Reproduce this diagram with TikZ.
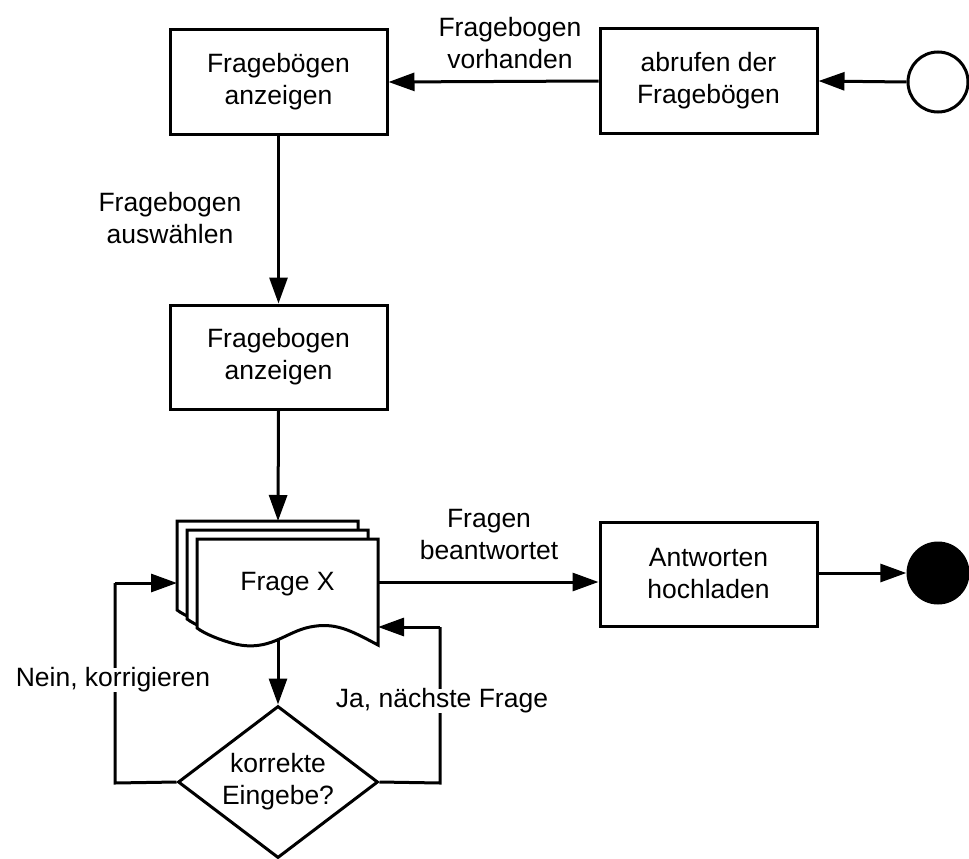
\documentclass[tikz,border=0pt]{standalone}
\usepackage{fontspec}
\setmainfont{Liberation Sans}
\usetikzlibrary{arrows.meta,shapes.geometric}
\begin{document}
\begin{tikzpicture}[x=1pt,y=-1pt,
  every node/.style={font=\fontsize{26.5}{32}\selectfont},
  procbox/.style={draw,line width=3pt,minimum width=217pt,minimum height=104pt,align=center,inner sep=0pt},
  lbl/.style={align=center,inner sep=0pt},
  conn/.style={line width=3pt,-{Triangle[length=26pt,width=18pt]}},
  plain/.style={line width=3pt},
  docshape/.style={draw,fill=white,line width=3pt,line join=miter}]
\useasboundingbox (0,0) rectangle (969,859);
% nodes
\node[procbox] (anz1) at (278.5,82) {Fragebögen\\anzeigen};
\node[procbox] (abruf) at (708.5,81) {abrufen der\\Fragebögen};
\node[draw,circle,line width=3pt,minimum size=60pt,inner sep=0pt] (start) at (938,82) {};
\node[procbox] (anz2) at (278.5,357) {Fragebogen\\anzeigen};
\node[procbox] (hoch) at (708.5,574) {Antworten\\hochladen};
\node[circle,fill=black,minimum size=63pt,inner sep=0pt] (end) at (938,573) {};
% multi-document
\foreach \dx/\dy in {-20/-18,-10/-9,0/0}{
  \draw[docshape] (197+\dx,539+\dy) -- (378+\dx,539+\dy) -- (378+\dx,645+\dy)
    .. controls (350+\dx,630+\dy) and (335+\dx,622+\dy) .. (310+\dx,627+\dy)
    .. controls (285+\dx,632+\dy) and (270+\dx,652+\dy) .. (235+\dx,644+\dy)
    .. controls (220+\dx,640+\dy) and (205+\dx,634+\dy) .. (197+\dx,628+\dy) -- cycle;
}
\node[minimum width=181pt,minimum height=90pt,inner sep=0pt] (doc) at (287.5,584) {Frage X};
\coordinate (doctop) at (278,521);
\coordinate (docbot) at (278,640);
\coordinate (docleft) at (177,583);
\coordinate (docright) at (378,627);
\node[draw,diamond,aspect=1.3,line width=3pt,minimum width=200pt,minimum height=152pt,inner sep=0pt,align=center] (dia) at (278,782) {korrekte\\Eingebe?};
\coordinate (lc) at (115,783);
\coordinate (lt) at (115,583);
\coordinate (rc) at (440,783);
\coordinate (rt) at (440,627);
% connectors
\draw[conn] (start.west) -- (abruf.east);
\draw[conn] (abruf.west) -- (anz1.east);
\draw[conn] (anz1.south) -- (anz2.north);
\draw[conn] (anz2.south) -- (doctop);
\draw[conn] (doc.east |- 0,582) -- (hoch.west |- 0,582);
\draw[conn] (hoch.east |- 0,573) -- (end.west);
\draw[conn] (docbot) -- (dia.north);
\draw[plain] (dia.west) -- (lc) -- (lt);
\draw[conn] (lt) -- (docleft);
\draw[plain] (dia.east) -- (rc) -- (rt);
\draw[conn] (rt) -- (docright);
% labels
\node[lbl,fill=white] at (510,43) {Fragebogen\\vorhanden};
\node[lbl] at (170,218) {Fragebogen\\auswählen};
\node[lbl] at (489,535) {Fragen\\beantwortet};
\node[lbl,fill=white] at (113,680) {Nein, korrigieren};
\node[lbl,fill=white] at (442,701) {Ja, nächste Frage};
\end{tikzpicture}
\end{document}
